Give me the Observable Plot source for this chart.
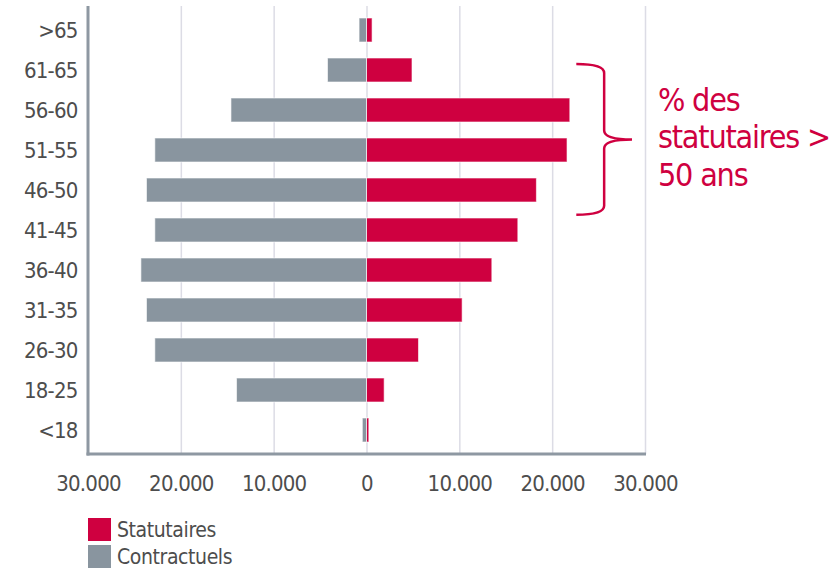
<!DOCTYPE html>
<html><head><meta charset="utf-8">
<script src="https://cdn.jsdelivr.net/npm/d3@7"></script>
<script src="https://cdn.jsdelivr.net/npm/@observablehq/plot@0.6"></script>
<style>
body{margin:0;background:#fff;font-family:"Liberation Sans Narrow","DejaVu Sans Condensed",sans-serif;}
#chart{position:relative;width:831px;height:569px;overflow:hidden;}
.legend{position:absolute;left:88px;top:518px;}
.item{display:flex;align-items:center;height:23px;margin-bottom:4px;font-size:21px;letter-spacing:-0.4px;color:#4d4d4d;}
.sw{width:23px;height:23px;margin-right:6px;}
</style></head><body><div id="chart"></div>
<script>
const ageGroups = [">65","61-65","56-60","51-55","46-50","41-45","36-40","31-35","26-30","18-25","<18"];
const statutaires = [600, 4900, 21900, 21600, 18300, 16300, 13500, 10300, 5600, 1900, 250];
const contractuels = [800, 4200, 14600, 22800, 23700, 22800, 24300, 23700, 22800, 14000, 450];
const seriesNames = ["Statutaires","Contractuels"];
const seriesColors = ["#cf0040","#89959f"];
const xTicks = [-30000,-20000,-10000,0,10000,20000,30000];
const annotationLines = ["% des","statutaires >","50 ans"];
const annotatedGroups = ["61-65","56-60","51-55","46-50"];

const rows = ageGroups.flatMap((g,i)=>[
  {group:g, series:seriesNames[0], value:statutaires[i]},
  {group:g, series:seriesNames[1], value:-contractuels[i]}
]);
const fmt = d3.formatLocale({decimal:",",thousands:".",grouping:[3],currency:["","€"]}).format(",d");
const FONT = '"Liberation Sans Narrow","DejaVu Sans Condensed",sans-serif';
const RED = seriesColors[0], GREY_LINE = "#8e98a2";

function frameMark(index, scales, values, dims){
  const g = d3.create("svg:g");
  const x0 = dims.marginLeft, x1 = dims.width - dims.marginRight;
  const y0 = dims.marginTop, y1 = dims.height - dims.marginBottom;
  g.append("line").attr("x1",x0).attr("x2",x0).attr("y1",y0).attr("y2",y1+1.5)
    .attr("stroke",GREY_LINE).attr("stroke-width",3);
  g.append("line").attr("x1",x0-1.5).attr("x2",x1+1).attr("y1",y1).attr("y2",y1)
    .attr("stroke",GREY_LINE).attr("stroke-width",3);
  return g.node();
}

function braceMark(index, scales, values, dims){
  const {x, y} = scales;
  const bw = typeof y.bandwidth === "function" ? y.bandwidth() : y.bandwidth;
  const first = annotatedGroups[0], last = annotatedGroups[annotatedGroups.length-1];
  const step = y(ageGroups[ageGroups.indexOf(last)+1]) - y(last);
  const yT = y(first) + 0.25*bw;
  const yB = y(last) + bw + 0.8*(step-bw);
  const yM = (yT+yB)/2;
  const xA = x(22600), xV = x(25600), xP = x(28600), xText = x(31400);
  const g = d3.create("svg:g");
  const r = 9;
  const d = `M${xA},${yT} Q${xV},${yT} ${xV},${yT+r} L${xV},${yM-r} Q${xV},${yM} ${xP},${yM} Q${xV},${yM} ${xV},${yM+r} L${xV},${yB-r} Q${xV},${yB} ${xA},${yB}`;
  g.append("path").attr("d",d).attr("fill","none").attr("stroke",RED).attr("stroke-width",2.5);
  const t = g.append("text").attr("fill",RED).attr("font-size",32).attr("letter-spacing","-1.2px")
    .attr("font-family",FONT).attr("text-anchor","start");
  annotationLines.forEach((s,i)=>{
    t.append("tspan").attr("x",xText).attr("y",yM+9+(i-1)*37.5).text(s);
  });
  return g.node();
}

const chart = Plot.plot({
  width: 831, height: 500,
  marginLeft: 88, marginRight: 186, marginTop: 6, marginBottom: 46,
  style: {fontFamily: FONT, fontSize: "22px", letterSpacing: "-0.8px", color: "#4d4d4d", background: "white", overflow: "visible"},
  x: {domain: [-30000, 30000], ticks: xTicks, tickFormat: d => fmt(Math.abs(d)), tickSize: 0, tickPadding: 21, label: null},
  y: {domain: ageGroups, paddingInner: 0.4, paddingOuter: 0.2, tickSize: 0, tickPadding: 11, label: null},
  color: {domain: seriesNames, range: seriesColors},
  marks: [
    Plot.ruleX(xTicks.slice(1), {stroke: "#dcdce5", strokeWidth: 1.5}),
    Plot.barX(rows, {x: "value", y: "group", fill: "series", stroke: "white", strokeWidth: 1, strokeOpacity: 0.6}),
    frameMark,
    braceMark
  ]
});
const root = document.getElementById("chart");
root.appendChild(chart);
const legend = document.createElement("div");
legend.className = "legend";
seriesNames.forEach((n,i)=>{
  const it = document.createElement("div"); it.className = "item";
  const sw = document.createElement("span"); sw.className = "sw"; sw.style.background = seriesColors[i];
  const tx = document.createElement("span"); tx.textContent = n;
  it.appendChild(sw); it.appendChild(tx); legend.appendChild(it);
});
root.appendChild(legend);
</script></body></html>
